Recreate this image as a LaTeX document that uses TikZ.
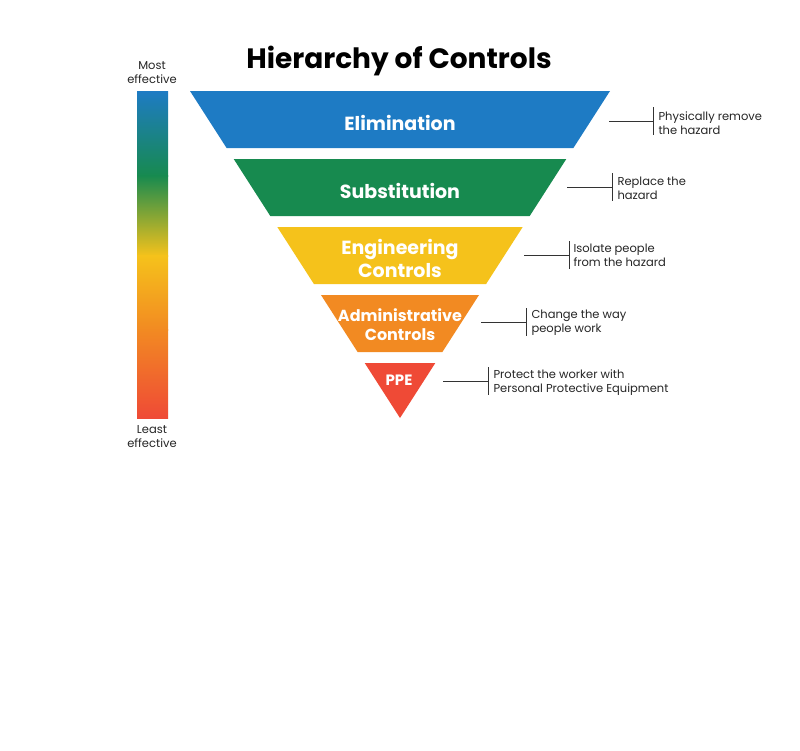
\documentclass[tikz,border=0pt]{standalone}
\usepackage{fontspec}
\setmainfont{Poppins}
\definecolor{cblue}{HTML}{1E7BC4}
\definecolor{cgreen}{HTML}{178A4F}
\definecolor{cyellow}{HTML}{F5C21B}
\definecolor{corange}{HTML}{F28A22}
\definecolor{cred}{HTML}{EF4A36}
\begin{document}
\begin{tikzpicture}[x=1pt,y=-1pt,
  band/.style={white,font=\fontsize{19}{21}\selectfont\bfseries,align=center},
  note/.style={anchor=west,align=left,font=\fontsize{11.5}{14}\selectfont,text=black!85},
  lead/.style={draw=black!80,line width=0.7pt},
  scale note/.style={align=center,font=\fontsize{11.5}{14}\selectfont,text=black!85}]
\useasboundingbox (0,0) rectangle (800,750);
\fill[white] (0,0) rectangle (800,750);
% gradient bar
\shade[top color=cblue,bottom color=cgreen] (137,91) rectangle (168,176);
\shade[top color=cgreen,bottom color=cyellow] (137,175.5) rectangle (168,256);
\shade[top color=cyellow,bottom color=corange] (137,255.5) rectangle (168,330);
\shade[top color=corange,bottom color=cred] (137,329.5) rectangle (168,418);
\node[scale note] (most) at (152,73) {Most\\effective};
\node[scale note] (least) at (152,437) {Least\\effective};
\node[font=\fontsize{28}{30}\selectfont\bfseries] (title) at (399,61) {Hierarchy of Controls};
% bands
\fill[cblue] (190,91) -- (610,91) -- (573.4,148) -- (226.6,148) -- cycle;
\fill[cgreen] (233.7,159) -- (566.3,159) -- (529.7,216) -- (270.3,216) -- cycle;
\fill[cyellow] (277.3,227) -- (522.7,227) -- (486.1,284) -- (313.9,284) -- cycle;
\fill[corange] (321,295) -- (479,295) -- (442.4,352) -- (357.6,352) -- cycle;
\fill[cred] (364.7,363) -- (435.3,363) -- (400,418) -- cycle;
\node[band] (b1) at (400,123) {Elimination};
\node[band] (b2) at (400,191) {Substitution};
\node[band,font=\fontsize{19}{23}\selectfont\bfseries] (b3) at (400,258) {Engineering\\Controls};
\node[band,font=\fontsize{16}{19}\selectfont\bfseries] (b4) at (400,325) {Administrative\\Controls};
\node[band,font=\fontsize{15}{17}\selectfont\bfseries] (b5) at (399,380) {PPE};
% notes
\coordinate (e1) at (609,121); \coordinate (e2) at (567,187);
\coordinate (e3) at (524,255); \coordinate (e4) at (481,322);
\coordinate (e5) at (443,381);
\node[note] (n1) at (655,123) {Physically remove\\the hazard};
\node[note] (n2) at (614,188) {Replace the\\hazard};
\node[note] (n3) at (570,255) {Isolate people\\from the hazard};
\node[note] (n4) at (528,323) {Change the way\\people work};
\node[note] (n5) at (490,383) {Protect the worker with\\Personal Protective Equipment};
\foreach \i/\x/\y in {1/653/121,2/612/187,3/569/255,4/526/322,5/488/381}{
  \draw[lead] (e\i) -- (\x,\y);
  \draw[lead] (\x,\y-14) -- (\x,\y+14);
}
\end{tikzpicture}
\end{document}
